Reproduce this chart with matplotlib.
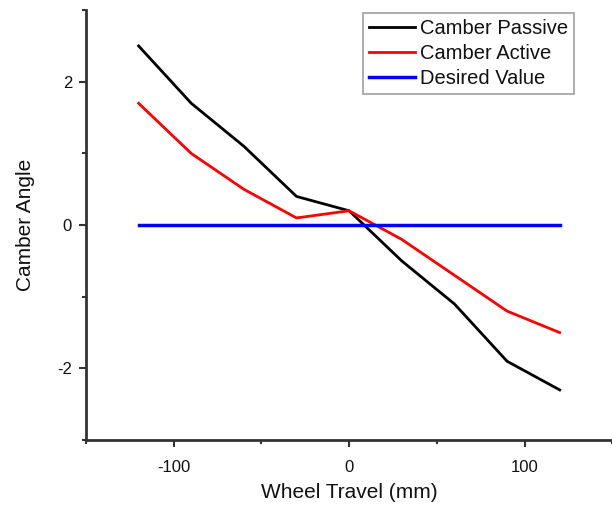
import numpy as np
import matplotlib.pyplot as plt
from matplotlib.ticker import MultipleLocator

plt.rcParams['font.family'] = ['Liberation Sans', 'DejaVu Sans']
plt.rcParams['axes.unicode_minus'] = False

# Datos
recorrido = [-120, -90, -60, -30, 0, 30, 60, 90, 120]
camber_pasivo = [2.5, 1.7, 1.1, 0.4, 0.2, -0.5, -1.1, -1.9, -2.3]
camber_activo = [1.7, 1.0, 0.5, 0.1, 0.2, -0.2, -0.7, -1.2, -1.5]
valor_deseado = [0, 0, 0, 0, 0, 0, 0, 0, 0]

fig = plt.figure(figsize=(6.12, 5.07), dpi=100)
ax = fig.add_axes([0.1405, 0.132, 0.86, 0.848])

ax.plot(recorrido, camber_pasivo, color='black', lw=2, label='Camber Passive')
ax.plot(recorrido, camber_activo, color='#ff0000', lw=2, label='Camber Active')
ax.plot(recorrido, valor_deseado, color='#0000ff', lw=2.5, label='Desired Value')

ax.set_xlim(-150, 150)
ax.set_ylim(-3, 3)
ax.xaxis.set_major_locator(MultipleLocator(100))
ax.xaxis.set_minor_locator(MultipleLocator(50))
ax.yaxis.set_major_locator(MultipleLocator(2))
ax.yaxis.set_minor_locator(MultipleLocator(1))

for lado in ['top', 'right']:
    ax.spines[lado].set_visible(False)
for lado in ['left', 'bottom']:
    ax.spines[lado].set_linewidth(2)
    ax.spines[lado].set_color('#333333')

ax.tick_params(which='major', direction='out', length=5, width=1.5,
               colors='#333333', labelsize=12, labelcolor='#111111')
ax.tick_params(axis='x', which='major', pad=9)
ax.tick_params(axis='y', which='major', pad=5)
ax.tick_params(which='minor', direction='out', length=3, width=1.5, colors='#333333')

ax.set_xlabel('Wheel Travel (mm)', fontsize=15, color='#111111', labelpad=6)
ax.set_ylabel('Camber Angle', fontsize=15, color='#111111', labelpad=16)

leg = ax.legend(loc='upper right', bbox_to_anchor=(0.928, 0.993), fontsize=14.5,
                frameon=True, fancybox=False, edgecolor='#888888',
                handlelength=2.3, handletextpad=0.25, borderpad=0.3,
                labelspacing=0.3, borderaxespad=0)
leg.get_frame().set_linewidth(1.2)
for t in leg.get_texts():
    t.set_color('#111111')

fig.savefig('out.png', dpi=100)
